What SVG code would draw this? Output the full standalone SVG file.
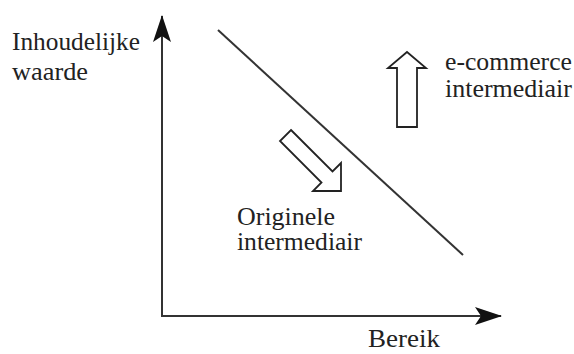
<svg xmlns="http://www.w3.org/2000/svg" width="574" height="354" viewBox="0 0 574 354">
<style>
text{font-family:'Liberation Serif','DejaVu Serif',serif;font-size:25px;fill:#222}
.ax{stroke:#333;stroke-width:2;fill:none}
.hol{fill:#fff;stroke:#222;stroke-width:1.8;stroke-linejoin:miter}
</style>
<defs>
<marker id="ah" viewBox="0 0 27 18" refX="26" refY="9" markerWidth="27" markerHeight="18" markerUnits="userSpaceOnUse" orient="auto">
<path d="M0,0 L27,9 L0,18 L6,9 Z" fill="#111"/>
</marker>
</defs>
<rect width="574" height="354" fill="#fff"/>
<g id="connectors">
<path class="ax" d="M162,316 L162,16" marker-end="url(#ah)"/>
<path class="ax" d="M161,316 L501,316" marker-end="url(#ah)"/>
<line class="ax" x1="218" y1="30" x2="463" y2="255" stroke-width="1.8"/>
</g>
<g id="y-label">
<text x="12" y="50" textLength="128" lengthAdjust="spacingAndGlyphs">Inhoudelijke</text>
<text x="12" y="80" textLength="76" lengthAdjust="spacingAndGlyphs">waarde</text>
</g>
<g id="x-label">
<text x="368" y="347" textLength="72" lengthAdjust="spacingAndGlyphs">Bereik</text>
</g>
<g id="ecommerce">
<polygon class="hol" points="407,52 426,68 417,68 417,127 397,127 397,68 388,68"/>
<text x="445" y="70" textLength="127" lengthAdjust="spacingAndGlyphs">e-commerce</text>
<text x="445" y="97" textLength="127" lengthAdjust="spacingAndGlyphs">intermediair</text>
</g>
<g id="origineel">
<polygon class="hol" points="291,130 332.5,171.5 341,163 341,191 313,191 321.5,182.5 280,141"/>
<text x="237" y="225" textLength="98" lengthAdjust="spacingAndGlyphs">Originele</text>
<text x="237" y="250" textLength="125" lengthAdjust="spacingAndGlyphs">intermediair</text>
</g>
</svg>
